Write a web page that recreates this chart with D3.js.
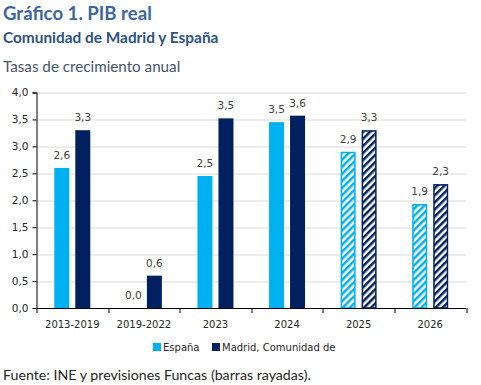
<!DOCTYPE html>
<html>
<head>
<meta charset="utf-8">
<script src="https://cdn.jsdelivr.net/npm/d3@7"></script>
<style>
  body { margin: 0; background: #fff; }
  svg { display: block; }
</style>
</head>
<body>
<div id="chart"></div>
<script>

// Data
var categories = ['2013-2019', '2019-2022', '2023', '2024', '2025', '2026'];
var seriesNames = ['España', 'Madrid, Comunidad de'];
var espana = [2.6, 0.0, 2.45, 3.45, 2.9, 1.93];
var madrid = [3.3, 0.6, 3.52, 3.57, 3.3, 2.3];
var espanaLabels = ['2,6', '0,0', '2,5', '3,5', '2,9', '1,9'];
var madridLabels = ['3,3', '0,6', '3,5', '3,6', '3,3', '2,3'];
var forecast = [false, false, false, false, true, true];
var yTicks = [0, 0.5, 1, 1.5, 2, 2.5, 3, 3.5, 4];

var width = 481, height = 385;
var colors = ['#00B0F0', '#002060'];
var sansTitle = 'Lato, "Open Sans", sans-serif';
var sansAxis = '"DejaVu Sans", Verdana, sans-serif';

var svg = d3.select('#chart').append('svg')
    .attr('width', width)
    .attr('height', height);

// Stripe patterns for the forecast bars
var defs = svg.append('defs');
colors.forEach(function(c, i) {
    var p = defs.append('pattern')
        .attr('id', 'hatch' + i)
        .attr('patternUnits', 'userSpaceOnUse')
        .attr('width', 5)
        .attr('height', 5)
        .attr('patternTransform', 'rotate(45)');
    p.append('rect').attr('width', 5).attr('height', 5).attr('fill', '#fff');
    p.append('rect').attr('width', 2.5).attr('height', 5).attr('fill', c);
});

// Titles
svg.append('text')
    .attr('x', 3).attr('y', 20)
    .attr('font-family', sansTitle)
    .attr('font-size', 18.6)
    .attr('font-weight', 'bold')
    .attr('fill', '#3B66A0')
    .text('Gráfico 1. PIB real');

svg.append('text')
    .attr('x', 3).attr('y', 43)
    .attr('font-family', sansTitle)
    .attr('font-size', 15.4)
    .attr('font-weight', 'bold')
    .attr('fill', '#2F5286')
    .text('Comunidad de Madrid y España');

svg.append('text')
    .attr('x', 3).attr('y', 72)
    .attr('font-family', sansTitle)
    .attr('font-size', 15.2)
    .attr('fill', '#44546A')
    .text('Tasas de crecimiento anual');

// Plot area
var margin = {left: 36.5, right: 15, top: 92.5, bottom: 77};
var plotW = width - margin.left - margin.right;
var plotH = height - margin.top - margin.bottom;

var g = svg.append('g')
    .attr('transform', 'translate(' + margin.left + ',' + margin.top + ')');

var x = d3.scaleBand().domain(categories).range([0, plotW]).padding(0);
var xInner = d3.scaleBand().domain([0, 1])
    .range([x.bandwidth() / 2 - 18, x.bandwidth() / 2 + 18])
    .paddingInner(6 / 21).paddingOuter(0);
var y = d3.scaleLinear().domain([0, 4]).range([plotH, 0]);

// Gridlines
g.append('g')
    .selectAll('line')
    .data(yTicks.filter(function(d) { return d > 0; }))
    .join('line')
    .attr('x1', 0).attr('x2', plotW)
    .attr('y1', function(d) { return Math.round(y(d)) + 0.5; })
    .attr('y2', function(d) { return Math.round(y(d)) + 0.5; })
    .attr('stroke', '#D9D9D9')
    .attr('stroke-width', 1);

// Bars
var rows = categories.map(function(c, i) {
    return {cat: c, i: i, vals: [espana[i], madrid[i]], labels: [espanaLabels[i], madridLabels[i]], fc: forecast[i]};
});

var groups = g.selectAll('.cat')
    .data(rows)
    .join('g')
    .attr('class', 'cat')
    .attr('transform', function(d) { return 'translate(' + x(d.cat) + ',0)'; });

groups.each(function(d) {
    var grp = d3.select(this);
    d.vals.forEach(function(v, s) {
        var h = plotH - y(v);
        if (d.fc) {
            grp.append('rect')
                .attr('x', xInner(s) + 0.75)
                .attr('y', y(v) + 0.75)
                .attr('width', xInner.bandwidth() - 1.5)
                .attr('height', Math.max(0, h - 0.75))
                .attr('fill', 'url(#hatch' + s + ')')
                .attr('stroke', colors[s])
                .attr('stroke-width', 1.5);
        } else {
            grp.append('rect')
                .attr('x', xInner(s))
                .attr('y', y(v))
                .attr('width', xInner.bandwidth())
                .attr('height', h)
                .attr('fill', colors[s]);
        }
        grp.append('text')
            .attr('x', xInner(s) + xInner.bandwidth() / 2)
            .attr('y', y(v) - 9)
            .attr('text-anchor', 'middle')
            .attr('font-family', sansAxis)
            .attr('font-size', 10.5)
            .attr('fill', '#404040')
            .text(d.labels[s]);
    });
});

// Y axis
var yAxis = g.append('g')
    .call(d3.axisLeft(y).tickValues(yTicks).tickSize(4).tickPadding(4)
        .tickFormat(function(d) { return d3.format('.1f')(d).replace('.', ','); }));
yAxis.select('.domain').attr('stroke', '#000').attr('d', 'M-4,0.5H0.5V' + (plotH + 0.5));
yAxis.selectAll('.tick line').attr('stroke', '#000');
yAxis.selectAll('text')
    .attr('font-family', sansAxis)
    .attr('font-size', 10.5)
    .attr('fill', '#262626');

// X axis with ticks at category boundaries
var xAxis = g.append('g')
    .attr('transform', 'translate(0,' + plotH + ')');
xAxis.append('line')
    .attr('x1', 0).attr('x2', plotW)
    .attr('y1', 0.5).attr('y2', 0.5)
    .attr('stroke', '#000');
xAxis.selectAll('.bound')
    .data(d3.range(categories.length + 1))
    .join('line')
    .attr('class', 'bound')
    .attr('x1', function(i) { return Math.round(i * x.step()) + 0.5; })
    .attr('x2', function(i) { return Math.round(i * x.step()) + 0.5; })
    .attr('y1', 0).attr('y2', 5)
    .attr('stroke', '#000');
xAxis.selectAll('.lab')
    .data(categories)
    .join('text')
    .attr('class', 'lab')
    .attr('x', function(d) { return x(d) + x.bandwidth() / 2; })
    .attr('y', 20)
    .attr('text-anchor', 'middle')
    .attr('font-family', sansAxis)
    .attr('font-size', 10)
    .attr('fill', '#262626')
    .text(function(d) { return d; });

// Legend
var legend = svg.append('g').attr('transform', 'translate(153,343)');
var legX = [0, 59];
seriesNames.forEach(function(n, i) {
    legend.append('rect')
        .attr('x', legX[i]).attr('y', 0)
        .attr('width', 8).attr('height', 8)
        .attr('fill', colors[i]);
    legend.append('text')
        .attr('x', legX[i] + 10).attr('y', 8)
        .attr('font-family', sansAxis)
        .attr('font-size', 10)
        .attr('fill', '#262626')
        .text(n);
});

// Source
svg.append('text')
    .attr('x', 3).attr('y', 380)
    .attr('font-family', sansTitle)
    .attr('font-size', 14.2)
    .attr('fill', '#262626')
    .text('Fuente: INE y previsiones Funcas (barras rayadas).');

</script>
</body>
</html>
